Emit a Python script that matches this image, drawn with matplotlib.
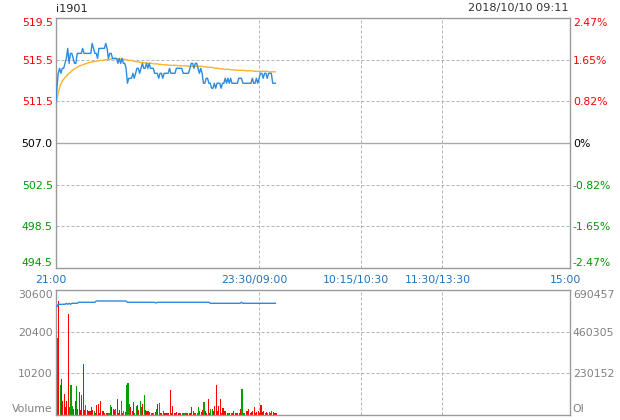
import matplotlib
matplotlib.use('Agg')
import matplotlib.pyplot as plt
import matplotlib.transforms as mtransforms

plt.rcParams['font.family'] = ['DejaVu Sans']

# ---------------- data ----------------
title_code = "i1901"
timestamp = "2018/10/10 09:11"
prev_settle = 507.0
pct_range = 2.47
price_ticklabels = ["494.5", "498.5", "502.5", "507.0", "511.5", "515.5", "519.5"]
pct_ticklabels = ["-2.47%", "-1.65%", "-0.82%", "0%", "0.82%", "1.65%", "2.47%"]
session_ticks = [0, 150, 225, 285, 379]
session_labels = ["21:00", "23:30/09:00", "10:15/10:30", "11:30/13:30", "15:00"]
vol_ticks = [0, 10200, 20400, 30600]
vol_ticklabels = ["Volume", "10200", "20400", "30600"]
oi_max = 690457
oi_ticklabels = ["OI", "230152", "460305", "690457"]

price = [
    510.5, 512.5, 514.0, 514.5, 514.0, 514.5, 514.5, 515.0, 515.5, 516.5,
    515.0, 516.0, 516.0, 515.5, 515.0, 515.0, 516.0, 516.0, 516.0, 516.0,
    516.5, 516.0, 516.0, 516.0, 516.0, 516.0, 516.0, 517.0, 516.5, 516.0,
    516.0, 515.5, 516.5, 516.5, 516.5, 516.5, 516.5, 517.0, 516.5, 515.5,
    516.0, 516.0, 515.5, 515.5, 515.5, 515.5, 515.0, 515.5, 515.0, 515.5,
    515.0, 515.0, 514.5, 513.0, 513.5, 513.5, 513.5, 514.0, 513.5, 514.0,
    514.5, 514.5, 514.0, 514.5, 515.0, 514.5, 514.5, 515.0, 514.5, 515.0,
    514.5, 514.5, 514.5, 514.0, 514.0, 514.0, 513.5, 514.0, 514.0, 513.5,
    514.0, 514.0, 514.0, 514.0, 514.5, 514.0, 514.0, 514.0, 514.0, 514.5,
    514.5, 514.5, 514.5, 514.5, 514.0, 514.0, 514.0, 514.0, 514.0, 514.5,
    515.0, 515.0, 514.5, 515.0, 515.0, 514.5, 514.0, 514.5, 514.0, 513.0,
    513.0, 513.5, 513.5, 513.0, 513.0, 512.5, 512.5, 513.0, 512.5, 513.0,
    513.0, 513.0, 512.5, 513.0, 513.0, 513.5, 513.0, 513.5, 513.0, 513.5,
    513.0, 513.0, 513.0, 513.0, 513.0, 513.5, 513.5, 513.5, 513.0, 513.0,
    513.0, 513.0, 513.0, 513.0, 513.0, 513.5, 513.0, 513.0, 513.5, 513.0,
    513.5, 514.0, 514.0, 513.5, 514.0, 514.0, 513.5, 514.0, 514.0, 514.0,
    513.0, 513.0, 513.0,
]

avg_price = [
    510.5, 511.3, 512.0, 512.6, 512.9, 513.2, 513.4, 513.6, 513.7, 513.9,
    514.0, 514.1, 514.25, 514.35, 514.45, 514.5, 514.6, 514.7, 514.75, 514.8,
    514.85, 514.9, 514.95, 515.0, 515.05, 515.1, 515.1, 515.15, 515.15, 515.2,
    515.2, 515.25, 515.25, 515.3, 515.3, 515.3, 515.35, 515.35, 515.4, 515.4,
    515.4, 515.45, 515.45, 515.45, 515.45, 515.45, 515.45, 515.45, 515.45, 515.4,
    515.4, 515.4, 515.35, 515.35, 515.3, 515.3, 515.3, 515.25, 515.2, 515.2,
    515.15, 515.15, 515.1, 515.1, 515.1, 515.05, 515.05, 515.05, 515.0, 515.0,
    515.0, 515.0, 514.95, 514.95, 514.95, 514.95, 514.9, 514.9, 514.9, 514.85,
    514.85, 514.85, 514.85, 514.8, 514.8, 514.8, 514.8, 514.8, 514.8, 514.8,
    514.75, 514.75, 514.75, 514.75, 514.75, 514.75, 514.75, 514.75, 514.7, 514.7,
    514.7, 514.7, 514.7, 514.7, 514.7, 514.7, 514.7, 514.7, 514.7, 514.65,
    514.65, 514.65, 514.6, 514.6, 514.6, 514.6, 514.55, 514.55, 514.5, 514.5,
    514.5, 514.45, 514.45, 514.45, 514.4, 514.4, 514.4, 514.4, 514.4, 514.35,
    514.35, 514.35, 514.35, 514.3, 514.3, 514.3, 514.3, 514.3, 514.3, 514.3,
    514.25, 514.25, 514.25, 514.25, 514.25, 514.25, 514.2, 514.2, 514.2, 514.2,
    514.2, 514.2, 514.2, 514.2, 514.2, 514.2, 514.2, 514.15, 514.15, 514.15,
    514.15, 514.15, 514.15,
]

volume = [
    15900, 18950, 28000, 7350, 8820, 3430, 5150, 1880, 3430, 24740,
    1880, 7190, 2000, 1470, 3270, 6940, 1470, 5470, 1225, 4740,
    12500, 1225, 2290, 1225, 820, 820, 1800, 1225, 820, 400,
    2290, 2600, 350, 3270, 820, 820, 410, 410, 350, 400,
    2450, 1960, 1470, 1225, 1470, 3920, 350, 1225, 3430, 410,
    820, 570, 7190, 7760, 2690, 1800, 820, 3100, 410, 2200,
    2450, 1225, 3270, 1880, 2690, 4900, 1225, 980, 820, 570,
    410, 410, 410, 570, 1470, 2610, 2860, 410, 350, 820,
    350, 350, 350, 350, 6125, 350, 2200, 410, 350, 570,
    350, 350, 350, 350, 350, 350, 350, 350, 350, 350,
    1800, 820, 410, 350, 350, 1960, 820, 570, 1225, 3030,
    820, 350, 3920, 410, 1470, 1470, 820, 2200, 7190, 980,
    2200, 3920, 410, 1630, 980, 980, 350, 350, 350, 350,
    410, 820, 350, 350, 350, 350, 1470, 6370, 350, 350,
    820, 820, 1470, 410, 570, 820, 1800, 410, 650, 820,
    410, 2450, 650, 980, 410, 570, 410, 570, 410, 820,
    650, 350, 350,
]

up = [
    1, 1, 1, 0, 1, 1, 1, 1, 1, 1,
    0, 0, 0, 1, 1, 0, 1, 1, 1, 1,
    1, 1, 0, 1, 1, 1, 1, 1, 0, 1,
    1, 1, 1, 1, 1, 1, 1, 1, 1, 0,
    0, 1, 1, 1, 0, 1, 1, 1, 0, 1,
    0, 1, 0, 0, 0, 1, 1, 1, 0, 0,
    1, 1, 0, 0, 1, 0, 1, 1, 1, 1,
    0, 1, 0, 1, 0, 1, 0, 1, 1, 0,
    1, 1, 1, 1, 1, 1, 1, 1, 1, 1,
    1, 1, 1, 0, 1, 0, 1, 1, 1, 1,
    1, 1, 1, 0, 0, 0, 0, 1, 1, 0,
    1, 1, 1, 1, 0, 0, 1, 1, 1, 1,
    1, 1, 0, 1, 1, 1, 1, 0, 1, 0,
    1, 1, 1, 1, 1, 1, 1, 0, 1, 0,
    1, 1, 1, 1, 1, 1, 1, 1, 1, 1,
    1, 1, 1, 1, 0, 1, 0, 0, 1, 0,
    1, 1, 1,
]

open_interest = [
    599300, 599300, 612600, 612600, 612600, 612600, 612600, 612600, 618200, 612600,
    618200, 612600, 618200, 618200, 618200, 618200, 618200, 623700, 623700, 623700,
    623700, 623700, 623700, 623700, 623700, 623700, 623700, 623700, 623700, 623700,
    631000, 631000, 631000, 631000, 631000, 631000, 631000, 631000, 631000, 631000,
    631000, 631000, 631000, 631000, 631000, 631000, 631000, 631000, 631000, 631000,
    631000, 631000, 631000, 623700, 623700, 623700, 623700, 623700, 623700, 623700,
    623700, 623700, 623700, 623700, 623700, 623700, 623700, 623700, 623700, 623700,
    623700, 623700, 623700, 623700, 620000, 623700, 623700, 623700, 623700, 623700,
    623700, 623700, 623700, 623700, 623700, 623700, 623700, 623700, 623700, 623700,
    623700, 623700, 623700, 623700, 623700, 623700, 623700, 623700, 623700, 623700,
    623700, 623700, 623700, 623700, 623700, 623700, 623700, 623700, 623700, 623700,
    623700, 623700, 623700, 623700, 618200, 618200, 618200, 618200, 618200, 618200,
    618200, 618200, 618200, 618200, 618200, 618200, 618200, 618200, 618200, 618200,
    618200, 618200, 618200, 618200, 618200, 618200, 618200, 623700, 618200, 618200,
    618200, 618200, 618200, 618200, 618200, 618200, 618200, 618200, 618200, 618200,
    618200, 618200, 618200, 618200, 618200, 618200, 618200, 618200, 618200, 618200,
    618200, 618200, 618200,
]

# ---------------- style ----------------
W, H = 620, 420
RED = '#ff0000'
GREEN = '#009900'
BAR_GREEN = '#00a000'
BLACK = '#000000'
BLUE_LINE = '#2b8be0'
AVG_LINE = '#ffb22c'
TIME_BLUE = '#1f74c0'
GRAY_TXT = '#808080'
SPINE = '#9a9a9a'
GRID = '#b4b4b4'
FS = 7.8
px = 72.0 / 100.0  # points per pixel

fig = plt.figure(figsize=(W / 100, H / 100), dpi=100)
fig.patch.set_facecolor('white')

left, right = 55.5, 570.0
p_top, p_bot = 18.3, 267.7
v_top, v_bot = 290.3, 414.5
ax = fig.add_axes([left / W, 1 - p_bot / H, (right - left) / W, (p_bot - p_top) / H])
axv = fig.add_axes([left / W, 1 - v_bot / H, (right - left) / W, (v_bot - v_top) / H])

x = list(range(len(price)))
xmax = session_ticks[-1]
dash = (0, (3, 2))

# ---------------- price panel ----------------
half = prev_settle * pct_range / 100.0
ylo, yhi = prev_settle - half, prev_settle + half
yt = [prev_settle + half * k / 3.0 for k in range(-3, 4)]

for a in (ax, axv):
    a.set_xlim(0, xmax)
    a.set_xticks([])
    for s in a.spines.values():
        s.set_color(SPINE)
        s.set_linewidth(1.0)
    a.tick_params(axis='y', length=0, pad=2, labelsize=FS)

for k, yv in zip(range(-3, 4), yt):
    if k in (-2, -1, 1, 2):
        ax.axhline(yv, color=GRID, lw=px, ls=dash, zorder=1)
ax.axhline(prev_settle, color='#aaaaaa', lw=1.0, zorder=1)
for g in session_ticks[1:-1]:
    ax.axvline(g, color=GRID, lw=px, ls=dash, zorder=1)
    axv.axvline(g, color=GRID, lw=px, ls=dash, zorder=1)

ax.plot(x, avg_price, color=AVG_LINE, lw=1.0, zorder=3)
ax.plot(x, price, color=BLUE_LINE, lw=1.0, zorder=4)
ax.set_ylim(ylo, yhi)
ax.set_yticks(yt)
ax.set_yticklabels(price_ticklabels)

axr = ax.twinx()
axr.set_ylim(ylo, yhi)
axr.set_yticks(yt)
axr.set_yticklabels(pct_ticklabels)
axr.tick_params(axis='y', length=0, pad=2, labelsize=FS)
for s in axr.spines.values():
    s.set_visible(False)

def colorize(labels):
    for k, lab in zip(range(-3, 4), labels):
        lab.set_color(RED if k > 0 else (BLACK if k == 0 else GREEN))
    labels[0].set_va('bottom')
    labels[-1].set_va('top')

colorize(ax.get_yticklabels())
colorize(axr.get_yticklabels())

# time labels
trans = mtransforms.blended_transform_factory(ax.transData, ax.transAxes)
trans = mtransforms.offset_copy(trans, fig=fig, x=-5, y=0, units='dots')
for pos, lab in zip(session_ticks, session_labels):
    ax.text(pos, -12.3 / (p_bot - p_top), lab, transform=trans, ha='center', va='center',
            fontsize=FS, color=TIME_BLUE)

fig.text(left / W, 1 - 8.5 / H, title_code, ha='left', va='center', fontsize=FS + 0.3, color='#222222')
fig.text(569 / W, 1 - 8.5 / H, timestamp, ha='right', va='center', fontsize=FS + 0.3, color='#333333')

# ---------------- volume panel ----------------
bar_colors = [RED if u else BAR_GREEN for u in up]
axv.bar(x, volume, width=0.8, align='edge', color=bar_colors, linewidth=0, zorder=2)
axv.set_ylim(0, vol_ticks[-1])
for yv in vol_ticks[1:-1]:
    axv.axhline(yv, color=GRID, lw=px, ls=dash, zorder=1)
axv.set_yticks(vol_ticks)
axv.set_yticklabels(vol_ticklabels)
vl = axv.get_yticklabels()
for lab in vl:
    lab.set_color(GRAY_TXT)
vl[0].set_va('bottom')
vl[-1].set_va('top')

axo = axv.twinx()
axo.plot(x, open_interest, color=BLUE_LINE, lw=1.0, zorder=3)
axo.set_ylim(0, oi_max)
axo.set_yticks([0, oi_max / 3.0, 2 * oi_max / 3.0, oi_max])
axo.set_yticklabels(oi_ticklabels)
axo.tick_params(axis='y', length=0, pad=2, labelsize=FS)
for s in axo.spines.values():
    s.set_visible(False)
ol = axo.get_yticklabels()
for lab in ol:
    lab.set_color(GRAY_TXT)
ol[0].set_va('bottom')
ol[-1].set_va('top')

fig.savefig('out.png', dpi=100, facecolor='white')
